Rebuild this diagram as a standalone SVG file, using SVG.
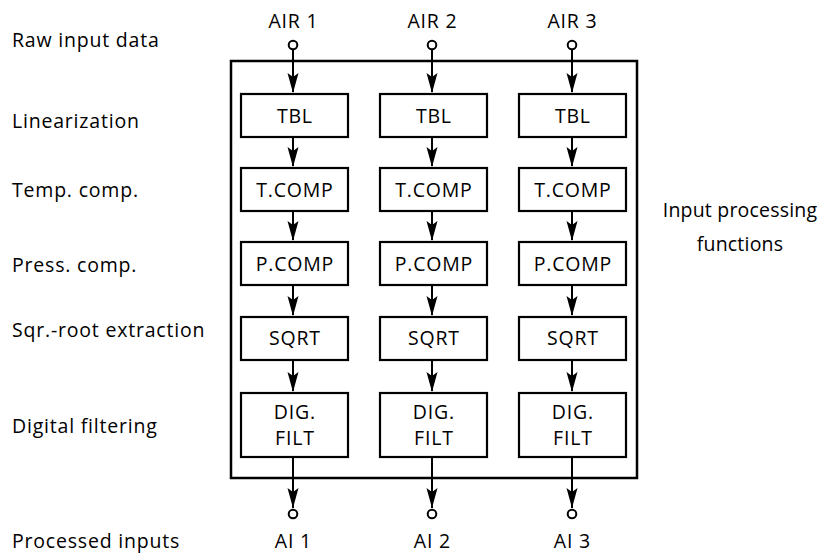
<svg xmlns="http://www.w3.org/2000/svg" width="824" height="555" viewBox="0 0 824 555">
<defs>
<style>
text{font-family:"Open Sans","Noto Sans","DejaVu Sans",sans-serif;font-size:19.5px;letter-spacing:0.8px;fill:#000}
.c{text-anchor:middle}
.r{letter-spacing:0.2px}
.box{fill:#fff;stroke:#000;stroke-width:2.2}
.frame{fill:none;stroke:#000;stroke-width:2.5}
.ln{stroke:#000;stroke-width:2;fill:none}
.term{fill:#fff;stroke:#000;stroke-width:2}
</style>
</defs>
<rect x="0" y="0" width="824" height="555" fill="#fff"/>
<g id="frame"><rect class="frame" x="231" y="61" width="406" height="417"/></g>
<g id="stage-labels">
<text x="12" y="47">Raw input data</text>
<text x="12" y="128">Linearization</text>
<text x="12" y="197">Temp. comp.</text>
<text x="12" y="272">Press. comp.</text>
<text x="12" y="337">Sqr.-root extraction</text>
<text x="12" y="433">Digital filtering</text>
<text x="12" y="548">Processed inputs</text>
<text class="c r" x="740" y="217">Input processing</text>
<text class="c r" x="740" y="251">functions</text>
</g>
<g id="connectors">
<path class="ln" d="M293,49 V92 M293,137 V166 M293,211 V240 M293,286 V315 M293,360 V391 M293,457 V508"/>
<path class="ln" d="M432,49 V92 M432,137 V166 M432,211 V240 M432,286 V315 M432,360 V391 M432,457 V508"/>
<path class="ln" d="M572,49 V92 M572,137 V166 M572,211 V240 M572,286 V315 M572,360 V391 M572,457 V508"/>
<g id="heads" fill="#000">
<path d="M293,93 l-5.5,-20 l5.5,4 l5.5,-4 Z M432,93 l-5.5,-20 l5.5,4 l5.5,-4 Z M572,93 l-5.5,-20 l5.5,4 l5.5,-4 Z"/>
<path d="M293,167 l-5.5,-20 l5.5,4 l5.5,-4 Z M432,167 l-5.5,-20 l5.5,4 l5.5,-4 Z M572,167 l-5.5,-20 l5.5,4 l5.5,-4 Z"/>
<path d="M293,241 l-5.5,-20 l5.5,4 l5.5,-4 Z M432,241 l-5.5,-20 l5.5,4 l5.5,-4 Z M572,241 l-5.5,-20 l5.5,4 l5.5,-4 Z"/>
<path d="M293,316 l-5.5,-20 l5.5,4 l5.5,-4 Z M432,316 l-5.5,-20 l5.5,4 l5.5,-4 Z M572,316 l-5.5,-20 l5.5,4 l5.5,-4 Z"/>
<path d="M293,392 l-5.5,-20 l5.5,4 l5.5,-4 Z M432,392 l-5.5,-20 l5.5,4 l5.5,-4 Z M572,392 l-5.5,-20 l5.5,4 l5.5,-4 Z"/>
<path d="M293,508 l-5.5,-20 l5.5,4 l5.5,-4 Z M432,508 l-5.5,-20 l5.5,4 l5.5,-4 Z M572,508 l-5.5,-20 l5.5,4 l5.5,-4 Z"/>
</g>
</g>
<g id="in1"><text class="c" x="293.4" y="28">AIR 1</text><circle class="term" cx="293" cy="45" r="4.3"/></g>
<g id="in2"><text class="c" x="432.4" y="28">AIR 2</text><circle class="term" cx="432" cy="45" r="4.3"/></g>
<g id="in3"><text class="c" x="572.4" y="28">AIR 3</text><circle class="term" cx="572" cy="45" r="4.3"/></g>
<g id="tbl1"><rect class="box" x="241" y="94" width="107" height="43"/><text class="c" x="294.9" y="123">TBL</text></g>
<g id="tbl2"><rect class="box" x="380" y="94" width="107" height="43"/><text class="c" x="433.9" y="123">TBL</text></g>
<g id="tbl3"><rect class="box" x="519" y="94" width="107" height="43"/><text class="c" x="572.9" y="123">TBL</text></g>
<g id="tcomp1"><rect class="box" x="241" y="168" width="107" height="43"/><text class="c" x="294.9" y="197">T.COMP</text></g>
<g id="tcomp2"><rect class="box" x="380" y="168" width="107" height="43"/><text class="c" x="433.9" y="197">T.COMP</text></g>
<g id="tcomp3"><rect class="box" x="519" y="168" width="107" height="43"/><text class="c" x="572.9" y="197">T.COMP</text></g>
<g id="pcomp1"><rect class="box" x="241" y="242" width="107" height="43"/><text class="c" x="294.9" y="271">P.COMP</text></g>
<g id="pcomp2"><rect class="box" x="380" y="242" width="107" height="43"/><text class="c" x="433.9" y="271">P.COMP</text></g>
<g id="pcomp3"><rect class="box" x="519" y="242" width="107" height="43"/><text class="c" x="572.9" y="271">P.COMP</text></g>
<g id="sqrt1"><rect class="box" x="241" y="317" width="107" height="43"/><text class="c" x="294.9" y="345">SQRT</text></g>
<g id="sqrt2"><rect class="box" x="380" y="317" width="107" height="43"/><text class="c" x="433.9" y="345">SQRT</text></g>
<g id="sqrt3"><rect class="box" x="519" y="317" width="107" height="43"/><text class="c" x="572.9" y="345">SQRT</text></g>
<g id="dig1"><rect class="box" x="241" y="393" width="107" height="64"/><text class="c" x="294.9" y="419">DIG.</text><text class="c" x="294.9" y="445">FILT</text></g>
<g id="dig2"><rect class="box" x="380" y="393" width="107" height="64"/><text class="c" x="433.9" y="419">DIG.</text><text class="c" x="433.9" y="445">FILT</text></g>
<g id="dig3"><rect class="box" x="519" y="393" width="107" height="64"/><text class="c" x="572.9" y="419">DIG.</text><text class="c" x="572.9" y="445">FILT</text></g>
<g id="out1"><circle class="term" cx="293" cy="514" r="4.3"/><text class="c" x="293.4" y="548">AI 1</text></g>
<g id="out2"><circle class="term" cx="432" cy="514" r="4.3"/><text class="c" x="432.4" y="548">AI 2</text></g>
<g id="out3"><circle class="term" cx="572" cy="514" r="4.3"/><text class="c" x="572.4" y="548">AI 3</text></g>
</svg>
